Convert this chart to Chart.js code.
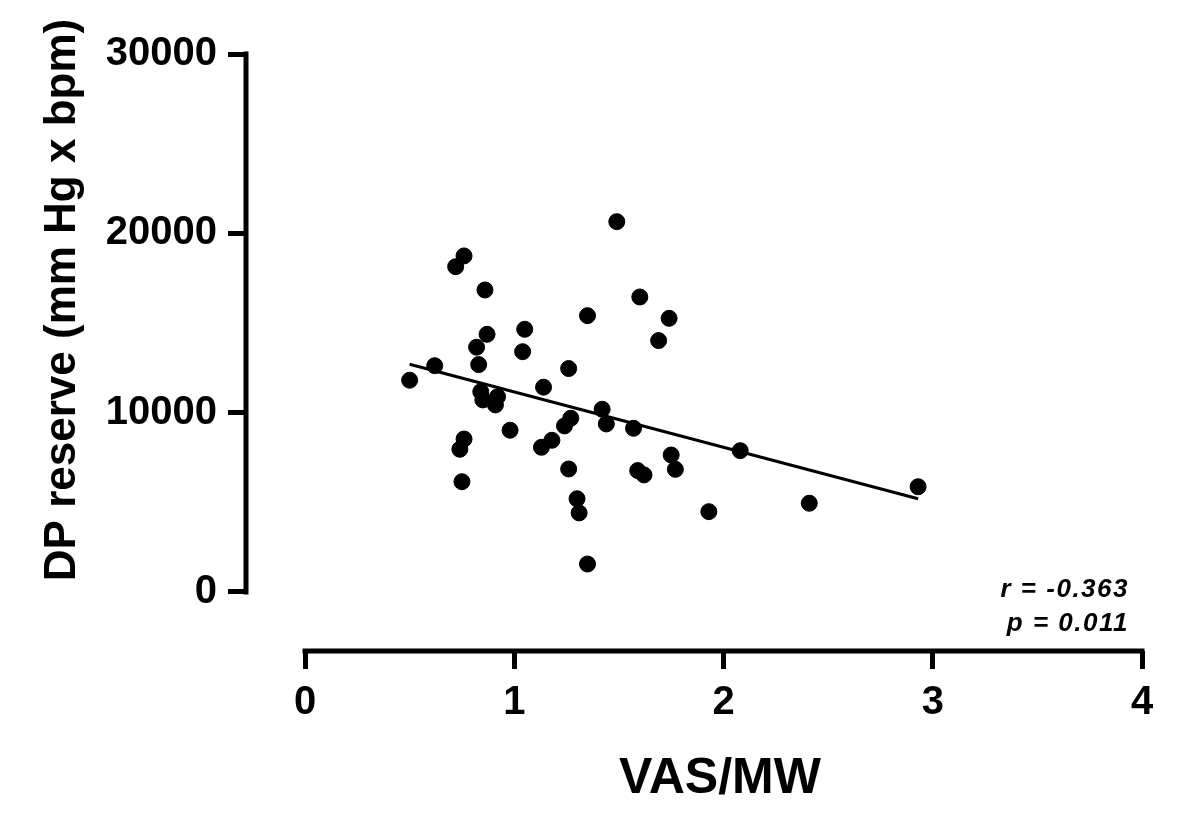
<!DOCTYPE html>
<html>
<head>
<meta charset="utf-8">
<script src="https://cdn.jsdelivr.net/npm/chart.js@4.4.1/dist/chart.umd.min.js"></script>
<style>
  body { margin: 0; background: #fff; }
  canvas { display: block; }
</style>
</head>
<body>
<canvas id="scatterChart" width="1200" height="820"></canvas>
<script>
// VAS/MW vs DP reserve
const vasMw = [
  0.50, 0.62, 0.72, 0.76, 0.86, 0.87, 0.82, 0.83, 0.84, 0.85, 0.92, 0.91,
  0.76, 0.74, 0.75, 0.98, 1.05, 1.04, 1.14, 1.13, 1.18, 1.26, 1.27, 1.24,
  1.26, 1.30, 1.31, 1.35, 1.35, 1.49, 1.42, 1.44, 1.57, 1.59, 1.62, 1.60,
  1.74, 1.69, 1.75, 1.77, 2.08, 1.93, 2.41, 2.93
];
const dpReserve = [
  11810, 12620, 18140, 18740, 16840, 14370, 13650, 12680, 11170, 10710, 10890, 10430,
  8530, 7960, 6150, 9020, 14650, 13400, 11420, 8070, 8460, 12460, 9690, 9260,
  6860, 5200, 4410, 1560, 15410, 20650, 10190, 9370, 9130, 6770, 6530, 16450,
  15260, 14020, 7640, 6840, 7880, 4480, 4950, 5870
];
// regression line end points
const fitX = [0.50, 2.93];
const fitY = [12700, 5200];

const xTicks = [0, 1, 2, 3, 4];
const yTicks = [0, 10000, 20000, 30000];

const xTitle = 'VAS/MW';
const yTitle = 'DP reserve (mm Hg x bpm)';
const statLines = ['r = -0.363', 'p = 0.011'];

const FONT = "'Liberation Sans', Arial, Helvetica, sans-serif";

const prismAxes = {
  id: 'prismAxes',
  afterDraw(chart) {
    const ctx = chart.ctx;
    const xs = chart.scales.x, ys = chart.scales.y;
    const area = chart.chartArea;
    ctx.save();
    ctx.strokeStyle = '#000';
    ctx.lineWidth = 5;
    ctx.lineCap = 'square';
    // y axis line
    ctx.beginPath();
    ctx.moveTo(area.left, ys.getPixelForValue(yTicks[0]));
    ctx.lineTo(area.left, ys.getPixelForValue(yTicks[yTicks.length - 1]));
    ctx.stroke();
    // x axis line
    ctx.beginPath();
    ctx.moveTo(xs.getPixelForValue(xTicks[0]), area.bottom);
    ctx.lineTo(xs.getPixelForValue(xTicks[xTicks.length - 1]), area.bottom);
    ctx.stroke();

    ctx.fillStyle = '#000';
    // x title
    ctx.font = 'bold 50px ' + FONT;
    ctx.textAlign = 'center';
    ctx.textBaseline = 'alphabetic';
    ctx.fillText(xTitle, 720, 793);
    // y title
    ctx.save();
    ctx.translate(75, 300);
    ctx.rotate(-Math.PI / 2);
    ctx.font = 'bold 44px ' + FONT;
    ctx.fillText(yTitle, 0, 0);
    ctx.restore();
    // stats
    ctx.font = 'italic bold 26px ' + FONT;
    ctx.letterSpacing = '1.5px';
    ctx.textAlign = 'right';
    ctx.fillText(statLines[0], 1129, 597);
    ctx.fillText(statLines[1], 1129, 631);
    ctx.restore();
  }
};

new Chart(document.getElementById('scatterChart'), {
  type: 'scatter',
  data: {
    datasets: [{
      label: 'Patients',
      data: vasMw.map((x, i) => ({ x: x, y: dpReserve[i] })),
      backgroundColor: '#000',
      borderColor: '#000',
      pointRadius: 8,
      pointHoverRadius: 8,
      order: 2
    }, {
      type: 'line',
      label: 'Fit',
      data: fitX.map((x, i) => ({ x: x, y: fitY[i] })),
      borderColor: '#000',
      borderWidth: 3,
      pointRadius: 0,
      fill: false,
      order: 1
    }]
  },
  options: {
    responsive: false,
    animation: false,
    layout: { padding: { left: 0, right: 58, top: 54, bottom: 0 } },
    plugins: { legend: { display: false }, tooltip: { enabled: false } },
    scales: {
      x: {
        type: 'linear',
        min: -0.282,
        max: 4,
        afterBuildTicks: s => { s.ticks = xTicks.map(v => ({ value: v })); },
        afterFit: s => { s.height = 169; },
        grid: { drawOnChartArea: false, drawTicks: true, tickLength: 18, lineWidth: 5, color: '#000' },
        border: { display: false },
        ticks: {
          color: '#000',
          padding: 10,
          maxRotation: 0,
          font: { family: FONT, size: 40, weight: 'bold' },
          callback: v => String(v)
        }
      },
      y: {
        type: 'linear',
        min: -3290,
        max: 30000,
        afterBuildTicks: s => { s.ticks = yTicks.map(v => ({ value: v })); },
        afterFit: s => { s.width = 246; },
        grid: { drawOnChartArea: false, drawTicks: true, tickLength: 18, lineWidth: 5, color: '#000' },
        border: { display: false },
        ticks: {
          color: '#000',
          padding: 11,
          font: { family: FONT, size: 40, weight: 'bold' },
          callback: v => String(v)
        }
      }
    }
  },
  plugins: [prismAxes]
});
</script>
</body>
</html>
